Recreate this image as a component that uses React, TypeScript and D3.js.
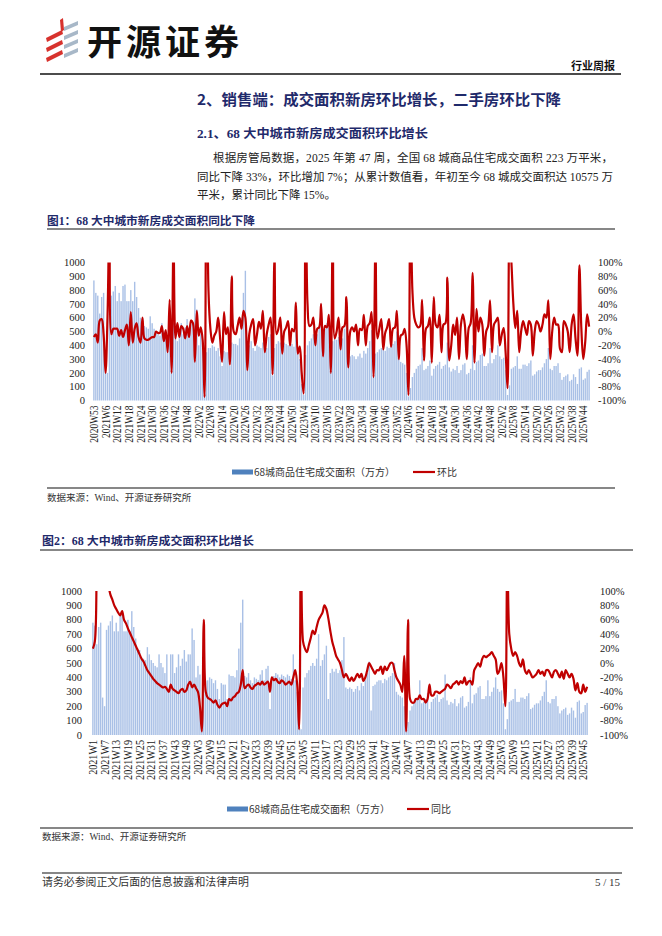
import React from 'react';
import * as d3 from 'd3';

// ---------- categories ----------
const weekSpans1: [number, number, number][] = [[2020, 53, 53], [2021, 1, 52], [2022, 1, 52], [2023, 1, 52], [2024, 1, 52], [2025, 1, 47]];
const weekSpans2: [number, number, number][] = [[2021, 1, 52], [2022, 1, 52], [2023, 1, 52], [2024, 1, 52], [2025, 1, 47]];
function buildWeeks(spans: [number, number, number][]): string[] {
  const out: string[] = [];
  spans.forEach(([y, a, b]) => { for (let w = a; w <= b; w++) out.push(`${y}W${w}`); });
  return out;
}
const weeks1 = buildWeeks(weekSpans1);
const weeks2 = buildWeeks(weekSpans2);

// ---------- 68城商品住宅成交面积（万方）, 2020W53..2025W47 ----------
const area: number[] = [
  870, 780, 760, 630, 750, 780, 260, 200, 730, 760, 790, 830, 720, 780, 720, 830, 840, 720, 720, 800, 720,
  860, 750, 670, 600, 590, 540, 530, 520, 610, 560, 520, 500, 480, 470, 560, 500, 470, 430, 560, 300,
  560, 560, 430, 470, 560, 480, 530, 590, 510, 560, 560, 740,
  // 2022
  660, 400, 480, 420, 80, 350, 380, 380, 400, 390, 360, 380, 320, 250, 360, 350, 350, 250, 420, 410, 410, 400, 450, 600, 780, 940,
  410, 400, 430, 380, 360, 400, 390, 380, 420, 450, 380, 460, 480, 180, 380, 410, 430, 420, 400, 420, 410, 400, 420, 410, 390, 560,
  // 2023
  380, 300, 120, 40, 330, 400, 430, 450, 480, 500, 480, 530, 700, 480, 520, 560, 620, 250, 430, 460, 440, 460, 430, 450, 520, 680,
  330, 320, 330, 320, 300, 320, 340, 310, 360, 340, 380, 430, 510, 170, 340, 350, 370, 380, 380, 360, 390, 380, 400, 410, 430, 500,
  // 2024
  300, 280, 270, 260, 200, 30, 90, 170, 200, 230, 250, 260, 380, 220, 230, 250, 290, 180, 230, 250, 260, 280, 230, 250, 260, 420,
  240, 210, 230, 220, 250, 200, 220, 260, 270, 190, 200, 230, 400, 220, 280, 290, 330, 340, 250, 250, 270, 380, 270, 300, 330, 400,
  // 2025
  320, 300, 310, 220, 40, 110, 230, 240, 250, 320, 230, 230, 260, 260, 250, 270, 290, 180, 190, 210, 220, 220, 240, 270, 300, 380,
  230, 220, 250, 250, 270, 200, 150, 170, 180, 190, 140, 150, 190, 170, 120, 230, 240, 150, 160, 208, 223,
];

// 环比 (%), 2020W53..2025W47
const hb: number[] = [
  -8, -4, -16, 16, 18, -4, -60, 20, 160, -4,
  4, 4, 4, -6, 2, -8, 2, 10, -20, 28,
  -16, 4, 12, -8, -16, 20, -10, -12, -12, -10,
  -8, -8, 0, -2, -2, 8, -14, 2, -30, 46,
  -60, 130, -10, 12, -8, 8, 4, -10, 8, -8,
  16, 12, -44,
  // 2022
  30, -6, 6, -12, -95, 300, 60, 4, -16, -6, 0, 20, -10, -44, 28, -4, 6, -48, 80, 0,
  -4, 8, 20, 4, 30, 20, -56, -4, 10, 18, -20, -4, 14, 4, 30, -30, -4, 10, 20, -62,
  110, -4, 4, 20, -32, 0, 6, 15, -20, 4, 0, 42,
  // 2023
  -32, -22, -60, -90, 250, 40, 8, 10, 20, -20, 4, 6, 40, -36, 8, 6, 24, -60, 150, -10,
  0, 20, -26, 6, 8, 50, -52, 0, 6, 0, 10, -20, 4, 2, 24, -20, 8, 12, 28, -66,
  130, -10, 4, 18, -26, -2, 6, 18, -22, 4, 6, 30,
  // 2024
  -40, -6, -4, 4, -20, -92, 200, 60, 20, 10, 6, 8, 46, -42, 4, 8, 20, -45, 50, 10,
  6, 24, -30, 10, 12, 78, -42, -20, 10, -5, 20, -40, 10, 25, 10, -40, 5, 12, 85, -45,
  33, 0, 20, 10, -35, 0, 8, 45, -30, 10, 15, 20,
  // 2025
  -20, -5, 5, -30, -82, 150, 100, 40, 5, 30, -30, 0, 15, 5, -5, 15, 10, -35, 0, 15,
  10, 0, 10, 25, 20, 45, -40, 0, 20, 10, 10, -25, -30, 15, 10, 0, -30, 10, 25, -10,
  -35, 96, 5, -40, -15, 25, 7,
];

// 同比 (%), 2021W1..2025W47
const tb: number[] = [
  20, 30, 150, 300, 400, 300, 250, 200, 110, 95,
  88, 80, 75, 70, 66, 72, 60, 55, 48, 42,
  36, 30, 24, 18, 12, 6, 2, -4, -10, -14,
  -18, -22, -25, -28, -30, -32, -34, -33, -36, -40,
  -30, -36, -38, -40, -42, -38, -36, -40, -38, -30,
  -26, -34,
  // 2022
  -30, -35, -40, -60, -95, 60, -40, -48, -50, -52,
  -55, -52, -58, -62, -58, -56, -55, -60, -50, -52,
  -48, -46, -42, -40, -30, -10, -35, -32, -30, -34,
  -36, -32, -30, -28, -30, -26, -30, -28, -26, -40,
  -20, -24, -22, -26, -28, -24, -26, -30, -28, -26,
  -30, -20,
  // 2023
  -10, -30, -92, 250, 30, 20, 15, 25, 35, 45,
  40, 50, 60, 65, 70, 80, 75, 62, 45, 30,
  20, 10, 5, 0, -10, -20, -15, -20, -25, -20,
  -25, -20, -15, -20, -15, -25, -20, -10, 0, -5,
  -10, -15, -10, -10, -5, -15, -5, -10, -5, 0,
  0, -10,
  // 2024
  -20, -25, -30, -40, 10, -95, 60, -50, -55, -55,
  -50, -50, -45, -50, -50, -55, -50, -30, -45, -45,
  -40, -40, -42, -40, -38, -36, -30, -32, -35, -30,
  -28, -25, -30, -25, -28, -20, -30, -26, -25, -30,
  -10, -5, 0, -5, 5, 10, 8, 10, 12, 15,
  10, 5,
  // 2025
  -15, -10, 0, -20, -60, 150, 40, 20, 10, 15,
  10, 0, -5, 5, -10, -15, -10, -15, -20, -18,
  -15, -10, -15, -12, -18, -10, -10, -15, -20, -12,
  -10, -15, -20, -12, -22, -10, -15, -20, -15, -22,
  -38, -28, -40, -42, -30, -40, -33,
];

const leftTicks = [0, 100, 200, 300, 400, 500, 600, 700, 800, 900, 1000];
const rightTicks = [-100, -80, -60, -40, -20, 0, 20, 40, 60, 80, 100];

const SERIF = '"Liberation Serif","Times New Roman","Noto Sans CJK SC",serif';
const CJK = '"Noto Sans CJK SC","Liberation Sans",sans-serif';
const NAVY = '#1f2a6b';
const BAR = '#a9c0e6';
const RED = '#c00000';

type ChartProps = {
  id: string;
  cats: string[];
  bars: number[];
  line: number[];
  x0: number; x1: number; yTop: number; yBot: number;
  leftX: number; rightX: number;
  labelSqueeze: number;
  barLegend: string; lineLegend: string;
  legY: number; legBarX: number; legLineX: number;
};

function Chart(p: ChartProps) {
  const x = d3.scaleBand<string>().domain(p.cats).range([p.x0, p.x1]).paddingInner(0.28).paddingOuter(0.1);
  const yL = d3.scaleLinear().domain([0, 1000]).range([p.yBot, p.yTop]);
  const yR = d3.scaleLinear().domain([-100, 100]).range([p.yBot, p.yTop]);
  const cx = (c: string) => (x(c) as number) + x.bandwidth() / 2;
  const lineGen = d3.line<number>()
    .x((_, i) => cx(p.cats[i]))
    .y((v) => yR(v))
    .curve(d3.curveCatmullRom.alpha(0.5));
  const labelIdx = p.cats.map((_, i) => i).filter((i) => i % 6 === 0);
  return (
    <g>
      <defs>
        <clipPath id={p.id}>
          <rect x={p.x0 - 2} y={p.yTop} width={p.x1 - p.x0 + 4} height={p.yBot - p.yTop} />
        </clipPath>
      </defs>
      {p.bars.map((v, i) => (
        <rect key={i} x={x(p.cats[i])} y={yL(Math.min(v, 1000))} width={x.bandwidth()} height={p.yBot - yL(Math.min(v, 1000))} fill={BAR} />
      ))}
      <path d={lineGen(p.line) || ''} fill="none" stroke={RED} strokeWidth={2.2} strokeLinejoin="round" clipPath={`url(#${p.id})`} />
      {leftTicks.map((t) => (
        <text key={t} x={p.leftX} y={yL(t)} dy="0.35em" textAnchor="end" fontSize={10.5} fontFamily={SERIF} fill="#222">{t}</text>
      ))}
      {rightTicks.map((t) => (
        <text key={t} x={p.rightX} y={yR(t)} dy="0.35em" textAnchor="start" fontSize={10.5} fontFamily={SERIF} fill="#222">{`${t}%`}</text>
      ))}
      {labelIdx.map((i) => (
        <text key={i} transform={`translate(${cx(p.cats[i]) + 4},${p.yBot + 5}) rotate(-90) scale(${p.labelSqueeze},1)`} textAnchor="end" fontSize={11.5} fontFamily={SERIF} fill="#222">{p.cats[i]}</text>
      ))}
      <rect x={p.legBarX} y={p.legY - 2.5} width={21} height={5} fill="#4f81bd" />
      <text x={p.legBarX + 22} y={p.legY} dy="0.35em" fontSize={10} fontFamily={CJK} fill="#333">{p.barLegend}</text>
      <line x1={p.legLineX} x2={p.legLineX + 22} y1={p.legY} y2={p.legY} stroke={RED} strokeWidth={2.2} />
      <text x={p.legLineX + 24} y={p.legY} dy="0.35em" fontSize={10} fontFamily={CJK} fill="#333">{p.lineLegend}</text>
    </g>
  );
}

function Logo() {
  const red = [0, 1, 2].map((k) => 30 + k * 10);
  const grey = [0, 1, 2, 3].map((k) => 21 + k * 9);
  return (
    <g>
      {red.map((y, k) => (
        <polygon key={'r' + k} points={`${46},${y + 8} ${62},${y} ${63},${y + 4} ${47},${y + 12}`} fill="#d7322d" />
      ))}
      <polygon points="60,20 63,18 64,30 61,32" fill="#d7322d" />
      {grey.map((y, k) => (
        <polygon key={'g' + k} points={`${64},${y + 6} ${78},${y} ${78},${y + 4} ${64},${y + 10}`} fill="#a8b8c8" />
      ))}
      <text x={87} y={55} fontSize={35} fontWeight={700} fontFamily={CJK} fill="#111" letterSpacing={4}>开源证券</text>
    </g>
  );
}

export default function App() {
  return (
    <svg width={662} height={936} style={{ position: 'absolute', left: 0, top: 0, background: '#fff' }}>
      <rect width={662} height={936} fill="#fff" />
      <Logo />
      <text x={615} y={70} textAnchor="end" fontSize={11} fontWeight={700} fontFamily={CJK} fill="#111">行业周报</text>
      <line x1={40} x2={621} y1={74} y2={74} stroke="#111" strokeWidth={1.3} />

      <text x={197} y={105} fontSize={15} fontWeight={700} fontFamily={CJK} fill={NAVY} textLength={364} lengthAdjust="spacingAndGlyphs">2、销售端：成交面积新房环比增长，二手房环比下降</text>
      <text x={197} y={137.5} fontSize={12.5} fontWeight={700} fontFamily={SERIF} fill={NAVY} textLength={231} lengthAdjust="spacingAndGlyphs">2.1、68 大中城市新房成交面积环比增长</text>
      <text x={213} y={162} fontSize={11.5} fontFamily={SERIF} fill="#222" textLength={400} lengthAdjust="spacing">根据房管局数据，2025 年第 47 周，全国 68 城商品住宅成交面积 223 万平米，</text>
      <text x={197} y={181} fontSize={11.5} fontFamily={SERIF} fill="#222" textLength={416} lengthAdjust="spacing">同比下降 33%，环比增加 7%；从累计数值看，年初至今 68 城成交面积达 10575 万</text>
      <text x={197} y={199} fontSize={11.5} fontFamily={SERIF} fill="#222">平米，累计同比下降 15%。</text>

      <text x={47} y={225} fontSize={11.5} fontWeight={700} fontFamily={SERIF} fill={NAVY} textLength={208} lengthAdjust="spacingAndGlyphs">图1：68 大中城市新房成交面积同比下降</text>
      <line x1={47} x2={615} y1={229} y2={229} stroke="#111" strokeWidth={1.2} />
      <Chart id="c1" cats={weeks1} bars={area} line={hb} x0={93} x1={590} yTop={262.5} yBot={400.5} leftX={85} rightX={598} labelSqueeze={0.82}
        barLegend="68城商品住宅成交面积（万方）" lineLegend="环比" legY={472} legBarX={232} legLineX={413} />
      <line x1={47} x2={615} y1={488} y2={488} stroke="#111" strokeWidth={1.2} />
      <text x={47} y={501} fontSize={9.5} fontFamily={SERIF} fill="#333">数据来源：Wind、开源证券研究所</text>

      <text x={42} y={545} fontSize={11.5} fontWeight={700} fontFamily={SERIF} fill={NAVY} textLength={212} lengthAdjust="spacingAndGlyphs">图2：68 大中城市新房成交面积环比增长</text>
      <line x1={40} x2={633} y1={550} y2={550} stroke="#111" strokeWidth={1.2} />
      <Chart id="c2" cats={weeks2} bars={area.slice(1)} line={tb} x0={92} x1={588} yTop={591} yBot={735} leftX={82} rightX={600} labelSqueeze={0.88}
        barLegend="68城商品住宅成交面积（万方）" lineLegend="同比" legY={809} legBarX={227} legLineX={407} />
      <line x1={40} x2={633} y1={828} y2={828} stroke="#111" strokeWidth={1.2} />
      <text x={42} y={840} fontSize={9.5} fontFamily={SERIF} fill="#333">数据来源：Wind、开源证券研究所</text>

      <line x1={42} x2={622} y1={873} y2={873} stroke="#111" strokeWidth={1.2} />
      <text x={42} y={886} fontSize={10.9} fontFamily={CJK} fill="#333">请务必参阅正文后面的信息披露和法律声明</text>
      <text x={620} y={886} textAnchor="end" fontSize={11} fontFamily={SERIF} fill="#333">5 / 15</text>
    </svg>
  );
}
